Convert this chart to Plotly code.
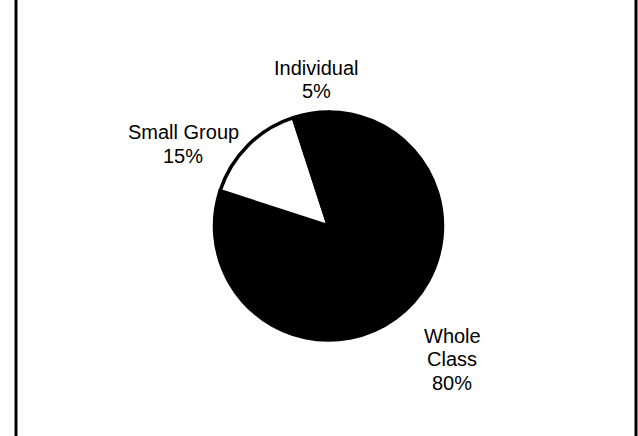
import plotly.graph_objects as go

# Share of instruction time by grouping
categories = ["Whole Class", "Small Group", "Individual"]
shares = [80, 15, 5]
display_names = ["Whole<br>Class", "Small Group", "Individual"]
slice_colors = ["black", "white", "black"]

W, H = 638, 436

# pie geometry in pixels
cx, cy, r = 328.5, 226, 114

fig = go.Figure(
    go.Pie(
        labels=categories,
        values=shares,
        sort=False,
        direction="clockwise",
        rotation=0,
        textinfo="none",
        hoverinfo="label+percent",
        marker=dict(colors=slice_colors, line=dict(color="black", width=3.5)),
        domain=dict(
            x=[(cx - r) / W, (cx + r) / W],
            y=[(H - cy - r) / H, (H - cy + r) / H],
        ),
        showlegend=False,
    )
)

# label placement: (center x, first-line y, line step) in pixels
label_pos = {
    "Whole Class": (452, 335.5, 23.5),
    "Small Group": (183, 131.5, 24),
    "Individual": (316, 67.5, 23.5),
}

annotations = []
for name, disp, val in zip(categories, display_names, shares):
    x, y0, step = label_pos[name]
    lines = disp.split("<br>") + [f"{val}%"]
    for i, line in enumerate(lines):
        annotations.append(
            dict(
                text=line,
                x=x / W,
                y=1 - (y0 + i * step) / H,
                xref="paper",
                yref="paper",
                xanchor="center",
                yanchor="middle",
                showarrow=False,
                font=dict(family="Liberation Sans, Arial, sans-serif", size=20, color="black"),
            )
        )

# side rules of the frame
shapes = [
    dict(type="line", xref="paper", yref="paper", x0=16 / W, x1=16 / W, y0=0, y1=1,
         line=dict(color="black", width=3)),
    dict(type="line", xref="paper", yref="paper", x0=636 / W, x1=636 / W, y0=0, y1=1,
         line=dict(color="black", width=3)),
]

fig.update_layout(
    width=W,
    height=H,
    autosize=False,
    margin=dict(l=0, r=0, t=0, b=0),
    paper_bgcolor="white",
    plot_bgcolor="white",
    annotations=annotations,
    shapes=shapes,
)

fig.write_html("out.html")
